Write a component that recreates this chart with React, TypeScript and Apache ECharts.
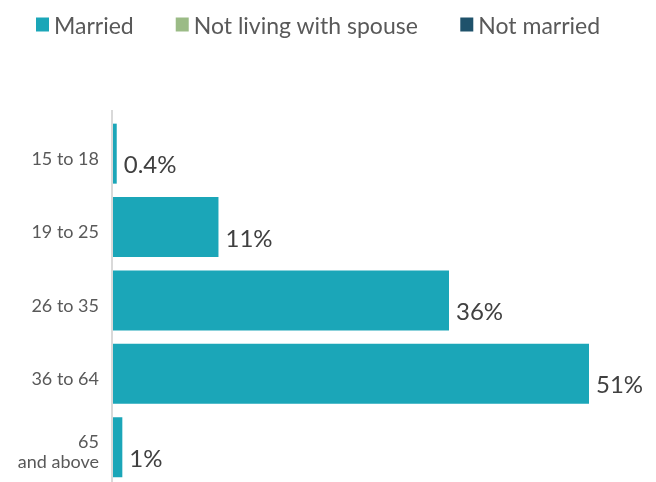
import React, { useEffect, useRef } from "react";
import * as echarts from "echarts";

const categories = ["15 to 18", "19 to 25", "26 to 35", "36 to 64", "65\nand above"];
const married = [0.4, 11.3, 36, 51, 1];
const marriedLabels = ["0.4%", "11%", "36%", "51%", "1%"];
const notLiving: number[] = [];
const notMarried: number[] = [];
const legendNames = ["Married", "Not living with spouse", "Not married"];
const colors = ["#1ba6b8", "#9bbb86", "#1f526b"];

const FONT = "Lato, 'Open Sans', sans-serif";

export default function App() {
  const ref = useRef<HTMLDivElement>(null);
  useEffect(() => {
    const chart = echarts.init(ref.current!, null, { renderer: "svg" });
    chart.setOption({
      animation: false,
      textStyle: { fontFamily: FONT },
      legend: {
        data: legendNames,
        left: 31,
        top: 8,
        itemWidth: 13,
        itemHeight: 14,
        itemGap: 42,
        icon: "rect",
        textStyle: { fontSize: 23, color: "#595959", fontFamily: FONT },
      },
      grid: { left: 113, top: 121, width: 476, height: 367, outerBoundsMode: "none", containLabel: false },
      xAxis: {
        type: "value",
        min: 0,
        max: 51,
        show: false,
      },
      yAxis: {
        type: "category",
        inverse: true,
        data: categories,
        axisLine: { show: false },
        axisTick: { show: false },
        axisLabel: {
          fontSize: 18,
          color: "#595959",
          margin: 14,
          align: "right",
          lineHeight: 20,
          fontFamily: FONT,
        },
      },
      graphic: [
        {
          type: "line",
          shape: { x1: 112, y1: 110, x2: 112, y2: 482 },
          style: { stroke: "#d9d9d9", lineWidth: 2 },
          z: 10,
        },
      ],
      series: [
        {
          name: legendNames[0],
          type: "bar",
          data: married,
          barWidth: 60,
          itemStyle: { color: colors[0] },
          label: {
            show: true,
            position: "right",
            distance: 7,
            offset: [0, 10],
            formatter: (p: any) => marriedLabels[p.dataIndex],
            fontSize: 24,
            color: "#404040",
            fontFamily: FONT,
          },
        },
        {
          name: legendNames[1],
          type: "bar",
          data: notLiving,
          itemStyle: { color: colors[1] },
        },
        {
          name: legendNames[2],
          type: "bar",
          data: notMarried,
          itemStyle: { color: colors[2] },
        },
      ],
    });
    return () => chart.dispose();
  }, []);
  return (
    <div
      ref={ref}
      style={{ position: "fixed", left: 0, top: 0, width: 656, height: 482 }}
    />
  );
}
